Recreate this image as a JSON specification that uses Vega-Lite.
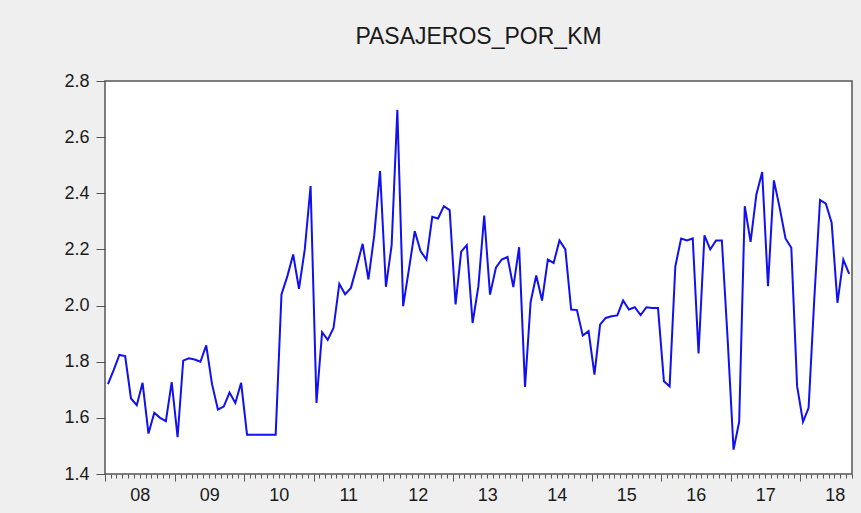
{
  "$schema": "https://vega.github.io/schema/vega-lite/v6.json",
  "width": 747,
  "height": 393,
  "autosize": {"type": "none"},
  "padding": {"left": 105, "top": 81, "right": 9, "bottom": 39},
  "background": "#efefef",
  "config": {
    "view": {"fill": "white", "stroke": "#555555", "strokeWidth": 1.5},
    "font": "Liberation Sans"
  },
  "title": {
    "text": "PASAJEROS_POR_KM",
    "fontSize": 23,
    "fontWeight": "normal",
    "color": "#1a1a1a",
    "font": "Liberation Sans",
    "anchor": "middle",
    "baseline": "alphabetic",
    "offset": 5
  },
  "data": {
    "values": [
      {"date": "2008-01", "value": 1.72},
      {"date": "2008-02", "value": 1.77},
      {"date": "2008-03", "value": 1.824},
      {"date": "2008-04", "value": 1.82},
      {"date": "2008-05", "value": 1.669},
      {"date": "2008-06", "value": 1.645},
      {"date": "2008-07", "value": 1.725},
      {"date": "2008-08", "value": 1.544},
      {"date": "2008-09", "value": 1.618},
      {"date": "2008-10", "value": 1.6},
      {"date": "2008-11", "value": 1.588},
      {"date": "2008-12", "value": 1.727},
      {"date": "2009-01", "value": 1.531},
      {"date": "2009-02", "value": 1.804},
      {"date": "2009-03", "value": 1.812},
      {"date": "2009-04", "value": 1.808},
      {"date": "2009-05", "value": 1.8},
      {"date": "2009-06", "value": 1.858},
      {"date": "2009-07", "value": 1.72},
      {"date": "2009-08", "value": 1.63},
      {"date": "2009-09", "value": 1.64},
      {"date": "2009-10", "value": 1.69},
      {"date": "2009-11", "value": 1.653},
      {"date": "2009-12", "value": 1.725},
      {"date": "2010-01", "value": 1.54},
      {"date": "2010-02", "value": 1.54},
      {"date": "2010-03", "value": 1.54},
      {"date": "2010-04", "value": 1.54},
      {"date": "2010-05", "value": 1.54},
      {"date": "2010-06", "value": 1.54},
      {"date": "2010-07", "value": 2.04},
      {"date": "2010-08", "value": 2.105},
      {"date": "2010-09", "value": 2.182},
      {"date": "2010-10", "value": 2.06},
      {"date": "2010-11", "value": 2.2},
      {"date": "2010-12", "value": 2.426},
      {"date": "2011-01", "value": 1.653},
      {"date": "2011-02", "value": 1.905},
      {"date": "2011-03", "value": 1.878},
      {"date": "2011-04", "value": 1.92},
      {"date": "2011-05", "value": 2.077},
      {"date": "2011-06", "value": 2.04},
      {"date": "2011-07", "value": 2.063},
      {"date": "2011-08", "value": 2.14},
      {"date": "2011-09", "value": 2.22},
      {"date": "2011-10", "value": 2.093},
      {"date": "2011-11", "value": 2.25},
      {"date": "2011-12", "value": 2.479},
      {"date": "2012-01", "value": 2.067},
      {"date": "2012-02", "value": 2.215},
      {"date": "2012-03", "value": 2.697},
      {"date": "2012-04", "value": 1.998},
      {"date": "2012-05", "value": 2.13},
      {"date": "2012-06", "value": 2.265},
      {"date": "2012-07", "value": 2.194},
      {"date": "2012-08", "value": 2.164},
      {"date": "2012-09", "value": 2.316},
      {"date": "2012-10", "value": 2.31},
      {"date": "2012-11", "value": 2.354},
      {"date": "2012-12", "value": 2.34},
      {"date": "2013-01", "value": 2.004},
      {"date": "2013-02", "value": 2.192},
      {"date": "2013-03", "value": 2.215},
      {"date": "2013-04", "value": 1.938},
      {"date": "2013-05", "value": 2.069},
      {"date": "2013-06", "value": 2.321},
      {"date": "2013-07", "value": 2.039},
      {"date": "2013-08", "value": 2.135},
      {"date": "2013-09", "value": 2.164},
      {"date": "2013-10", "value": 2.173},
      {"date": "2013-11", "value": 2.066},
      {"date": "2013-12", "value": 2.208},
      {"date": "2014-01", "value": 1.71},
      {"date": "2014-02", "value": 2.013},
      {"date": "2014-03", "value": 2.107},
      {"date": "2014-04", "value": 2.018},
      {"date": "2014-05", "value": 2.164},
      {"date": "2014-06", "value": 2.152},
      {"date": "2014-07", "value": 2.232},
      {"date": "2014-08", "value": 2.2},
      {"date": "2014-09", "value": 1.986},
      {"date": "2014-10", "value": 1.984},
      {"date": "2014-11", "value": 1.893},
      {"date": "2014-12", "value": 1.909},
      {"date": "2015-01", "value": 1.754},
      {"date": "2015-02", "value": 1.932},
      {"date": "2015-03", "value": 1.956},
      {"date": "2015-04", "value": 1.962},
      {"date": "2015-05", "value": 1.965},
      {"date": "2015-06", "value": 2.018},
      {"date": "2015-07", "value": 1.986},
      {"date": "2015-08", "value": 1.994},
      {"date": "2015-09", "value": 1.966},
      {"date": "2015-10", "value": 1.994},
      {"date": "2015-11", "value": 1.991},
      {"date": "2015-12", "value": 1.991},
      {"date": "2016-01", "value": 1.73},
      {"date": "2016-02", "value": 1.712},
      {"date": "2016-03", "value": 2.14},
      {"date": "2016-04", "value": 2.239},
      {"date": "2016-05", "value": 2.232},
      {"date": "2016-06", "value": 2.239},
      {"date": "2016-07", "value": 1.829},
      {"date": "2016-08", "value": 2.25},
      {"date": "2016-09", "value": 2.2},
      {"date": "2016-10", "value": 2.232},
      {"date": "2016-11", "value": 2.232},
      {"date": "2016-12", "value": 1.879},
      {"date": "2017-01", "value": 1.487},
      {"date": "2017-02", "value": 1.586},
      {"date": "2017-03", "value": 2.354},
      {"date": "2017-04", "value": 2.227},
      {"date": "2017-05", "value": 2.396},
      {"date": "2017-06", "value": 2.476},
      {"date": "2017-07", "value": 2.069},
      {"date": "2017-08", "value": 2.446},
      {"date": "2017-09", "value": 2.348},
      {"date": "2017-10", "value": 2.239},
      {"date": "2017-11", "value": 2.206},
      {"date": "2017-12", "value": 1.713},
      {"date": "2018-01", "value": 1.586},
      {"date": "2018-02", "value": 1.636},
      {"date": "2018-03", "value": 2.02},
      {"date": "2018-04", "value": 2.376},
      {"date": "2018-05", "value": 2.363},
      {"date": "2018-06", "value": 2.295},
      {"date": "2018-07", "value": 2.01},
      {"date": "2018-08", "value": 2.164},
      {"date": "2018-09", "value": 2.113}
    ]
  },
  "mark": {"type": "line", "color": "#1010f0", "strokeWidth": 2, "strokeJoin": "miter"},
  "encoding": {
    "x": {
      "field": "date",
      "type": "temporal",
      "timeUnit": "utcyearmonth",
      "bandPosition": 0.5,
      "title": null,
      "scale": {
        "domain": [
          {"year": 2008, "month": 1, "date": 1, "utc": true},
          {"year": 2018, "month": 10, "date": 1, "utc": true}
        ],
        "nice": false
      },
      "axis": {
        "tickCount": "month",
        "grid": false,
        "domain": false,
        "ticks": true,
        "tickColor": "#555555",
        "tickWidth": 1,
        "tickSize": {"condition": {"test": "utcmonth(datum.value) == 0", "value": 7}, "value": 4},
        "labelExpr": "utcmonth(datum.value) == 0 ? utcFormat(datum.value, '%y') : ''",
        "labelOverlap": false,
        "labelFlush": false,
        "labelBound": false,
        "labelOffset": 34.7,
        "labelPadding": 5,
        "labelFontSize": 18,
        "labelColor": "#1a1a1a",
        "labelFont": "Liberation Sans"
      }
    },
    "y": {
      "field": "value",
      "type": "quantitative",
      "title": null,
      "scale": {"domain": [1.4, 2.8], "nice": false, "zero": false},
      "axis": {
        "values": [1.4, 1.6, 1.8, 2.0, 2.2, 2.4, 2.6, 2.8],
        "format": ".1f",
        "grid": false,
        "domain": false,
        "tickColor": "#555555",
        "tickSize": 9,
        "labelPadding": 7,
        "labelFontSize": 18,
        "labelColor": "#1a1a1a",
        "labelFont": "Liberation Sans"
      }
    }
  }
}
